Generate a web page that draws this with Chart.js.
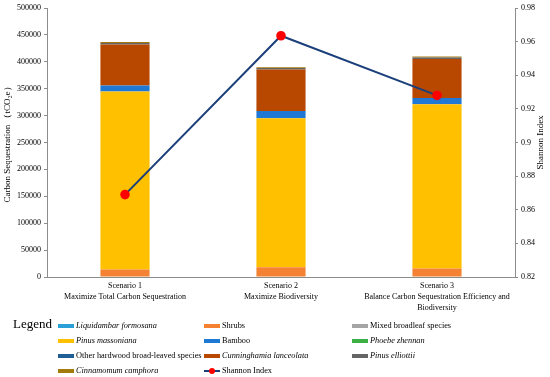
<!DOCTYPE html>
<html>
<head>
<meta charset="utf-8">
<script src="https://cdn.jsdelivr.net/npm/chart.js@4/dist/chart.umd.min.js"></script>
<style>
  body { margin: 0; background: #fff; }
  #wrap { position: relative; width: 550px; height: 377px; }
  #legendTitle { position: absolute; left: 13px; top: 316px; font: 13px "Liberation Serif", serif; color: #000; }
  #legend { position: absolute; left: 58px; top: 318px; display: grid;
    grid-template-columns: 146px 148px auto; grid-auto-rows: 15px;
    font: 8.3px "Liberation Serif", serif; color: #000; }
  .item { display: flex; align-items: center; white-space: nowrap; }
  .sw { width: 16px; height: 4px; margin-right: 2px; position: relative; }
  .dot { position: absolute; left: 5px; top: -2px; width: 6px; height: 6px; border-radius: 50%; background: #ff0000; }
</style>
</head>
<body>
<div id="wrap">
  <canvas id="chart" width="550" height="377"></canvas>
  <div id="legendTitle">Legend</div>
  <div id="legend"></div>
</div>
<script>
const scenarios = [
  ['Scenario 1', 'Maximize Total Carbon Sequestration'],
  ['Scenario 2', 'Maximize Biodiversity'],
  ['Scenario 3', 'Balance Carbon Sequestration Efficiency and', 'Biodiversity']
];

// species in stacking order (bottom to top), also legend order
const species = ['Liquidambar formosana', 'Shrubs', 'Mixed broadleaf species', 'Pinus massoniana', 'Bamboo',
  'Phoebe zhennan', 'Other hardwood broad-leaved species', 'Cunninghamia lanceolata', 'Pinus elliottii', 'Cinnamomum camphora'];
const italic = [true, false, false, true, false, true, false, true, true, true];
const colors = ['#2a9fd8', '#f58232', '#a5a5a5', '#ffc000', '#1f78d4', '#3cb043', '#1f5f96', '#b84700', '#656565', '#a37a0c'];

const liquidambar = [0, 0, 0];
const shrubs = [14000, 18000, 16000];
const mixedBroadleaf = [0, 0, 0];
const pinusMassoniana = [331000, 277000, 305000];
const bamboo = [11000, 13500, 11500];
const phoebe = [0, 0, 0];
const otherHardwood = [0, 0, 0];
const cunninghamia = [76000, 77000, 72500];
const pinusElliottii = [3000, 3000, 3000];
const cinnamomum = [2000, 1500, 2000];

const shannon = [0.869, 0.9635, 0.928];

const carbonTicks = { min: 0, max: 500000, step: 50000 };
const shannonTicks = { min: 0.82, max: 0.98, step: 0.02 };

const seriesValues = [liquidambar, shrubs, mixedBroadleaf, pinusMassoniana, bamboo,
  phoebe, otherHardwood, cunninghamia, pinusElliottii, cinnamomum];

const font = '"Liberation Serif", serif';
const axisColor = '#8c8c8c';

const datasets = species.map((name, i) => ({
  type: 'bar',
  label: name,
  data: seriesValues[i],
  backgroundColor: colors[i],
  yAxisID: 'y',
  order: 1,
  barPercentage: 0.63,
  categoryPercentage: 0.5
}));

datasets.push({
  type: 'line',
  label: 'Shannon Index',
  data: shannon,
  yAxisID: 'y1',
  borderColor: '#1b3f7a',
  borderWidth: 2,
  pointBackgroundColor: '#ff0000',
  pointBorderColor: '#ff0000',
  pointRadius: 3.8,
  tension: 0,
  order: 0
});

// right axis title reads bottom-to-top like the left one
const rightTitle = {
  id: 'rightTitle',
  afterDraw(chart) {
    const { ctx, chartArea } = chart;
    ctx.save();
    ctx.translate(541, (chartArea.top + chartArea.bottom) / 2);
    ctx.rotate(-Math.PI / 2);
    ctx.font = '9px ' + font;
    ctx.fillStyle = '#000';
    ctx.textAlign = 'center';
    ctx.textBaseline = 'middle';
    ctx.fillText('Shannon Index', 0, 0);
    ctx.restore();
  }
};

new Chart(document.getElementById('chart'), {
  data: { labels: scenarios, datasets: datasets },
  plugins: [rightTitle],
  options: {
    responsive: false,
    animation: false,
    layout: { padding: { top: 8, bottom: 60, left: 0, right: 0 } },
    plugins: { legend: { display: false }, tooltip: { enabled: false } },
    scales: {
      x: {
        stacked: true,
        grid: { display: false, drawTicks: false },
        border: { color: axisColor },
        ticks: { color: '#000', font: { family: font, size: 8, lineHeight: 1.35 }, padding: 4, maxRotation: 0, autoSkip: false },
        afterFit: s => { s.height = 40; }
      },
      y: {
        stacked: true,
        position: 'left',
        min: carbonTicks.min, max: carbonTicks.max,
        grid: { display: true, drawOnChartArea: false, tickLength: 3, color: axisColor },
        border: { color: axisColor },
        ticks: { stepSize: carbonTicks.step, color: '#000', font: { family: font, size: 8 }, padding: 3,
          callback: v => String(v) },
        title: { display: true, text: 'Carbon Sequestration （tCO₂e）', color: '#000', font: { family: font, size: 9 }, padding: { top: 2, bottom: 0 } },
        afterFit: s => { s.width = 47; }
      },
      y1: {
        position: 'right',
        min: shannonTicks.min, max: shannonTicks.max,
        grid: { display: true, drawOnChartArea: false, tickLength: 3, color: axisColor },
        border: { color: axisColor },
        ticks: { stepSize: shannonTicks.step, color: '#000', font: { family: font, size: 8 }, padding: 3,
          callback: v => String(parseFloat(v.toFixed(2))) },
        afterFit: s => { s.width = 35; }
      }
    }
  }
});

// html legend, three columns
const legendEl = document.getElementById('legend');
const entries = species.map((name, i) => ({ name, color: colors[i], italic: italic[i] }));
entries.push({ name: 'Shannon Index', color: '#1b3f7a', italic: false, line: true });
entries.forEach(e => {
  const item = document.createElement('div');
  item.className = 'item';
  item.innerHTML = `<span class="sw" style="background:${e.color};${e.line ? 'height:2px;' : ''}">${e.line ? '<span class="dot"></span>' : ''}</span>` +
    `<span style="font-style:${e.italic ? 'italic' : 'normal'}">${e.name}</span>`;
  legendEl.appendChild(item);
});
</script>
</body>
</html>
